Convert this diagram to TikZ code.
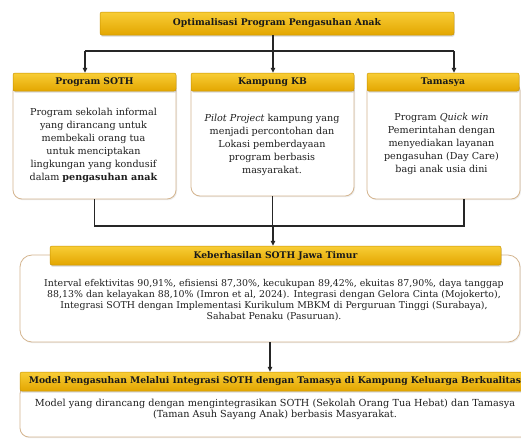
\documentclass[tikz,border=0pt]{standalone}
\usepackage{fontspec}
\setmainfont{DejaVu Serif}
\usepackage{xcolor}
\usetikzlibrary{arrows.meta, positioning, shadows}

\definecolor{goldlt}{HTML}{F8CD36}
\definecolor{golddk}{HTML}{E3A600}
\definecolor{goldln}{HTML}{C99400}
\definecolor{tanln}{HTML}{D4B58F}

\begin{document}
\begin{tikzpicture}[x=1pt, y=-1pt,
                >={Triangle[length=5pt, width=4.5pt]},
                hdr/.style   ={draw=goldln, line width=0.5pt, rounded corners=2pt,
                        top color=goldlt, bottom color=golddk, inner sep=0pt,
                        font=\fontsize{9.2}{11}\selectfont\bfseries, text=black!90,
                        drop shadow={shadow xshift=0.6pt, shadow yshift=-1.6pt, opacity=0.3}},
                bodybox/.style ={draw=tanln, line width=0.8pt, rounded corners=9pt,
                        fill=white, inner sep=0pt,
                        drop shadow={shadow xshift=1pt, shadow yshift=-1.2pt, opacity=0.15}},
                txt/.style   ={font=\fontsize{9.6}{13}\selectfont, align=center, text=black!88},
                small/.style ={font=\fontsize{9.4}{10.9}\selectfont, align=center, text=black!88},
                link/.style  ={line width=1.1pt, draw=black!85}
            ]

            \fill[white] (0,0) rectangle (521,440);
            \useasboundingbox (0,0) rectangle (521,440);

            %% ---- TOP: main program ---------------------------------------------
            \node[hdr, minimum width=354pt, minimum height=23pt] (opt) at (277,23.5)
                {Optimalisasi Program Pengasuhan Anak};

            %% ---- THREE COLUMNS -------------------------------------------------
            \node[bodybox, minimum width=163pt, minimum height=117pt] (sothbox) at (94.5,140.5) {};
            \node[bodybox, minimum width=163pt, minimum height=114pt] (kbbox)   at (272.5,139) {};
            \node[bodybox, minimum width=153pt, minimum height=117pt] (tambox)  at (443.5,140.5) {};

            \node[hdr, minimum width=163pt, minimum height=18pt] (soth) at (94.5,82) {Program SOTH};
            \node[hdr, minimum width=163pt, minimum height=18pt] (kb)   at (272.5,82) {Kampung KB};
            \node[hdr, minimum width=152pt, minimum height=18pt] (tam)  at (443,82) {Tamasya};

            \node[txt] (sothtxt) at (93.5,145.5) {Program sekolah informal\\yang dirancang untuk\\
                membekali orang tua\\untuk menciptakan\\lingkungan yang kondusif\\
                dalam \textbf{pengasuhan anak}};
            \node[txt] (kbtxt) at (272,144.5) {\textit{Pilot Project} kampung yang\\
                menjadi percontohan dan\\Lokasi pemberdayaan\\program berbasis\\masyarakat.};
            \node[txt] (tamtxt) at (441.5,143.5) {Program \textit{Quick win}\\Pemerintahan dengan\\
                menyediakan layanan\\pengasuhan (Day Care)\\bagi anak usia dini};

            %% ---- top bus: banner -> columns --------------------------------------
            \coordinate (tbus)  at (273,51);
            \coordinate (tbusL) at (85,51);
            \coordinate (tbusR) at (454,51);
            \draw[link] (tbus |- opt.south) -- (tbus);
            \draw[link] (tbusL) -- (tbusR);
            \draw[link, ->] (tbusL) -- (tbusL |- soth.north);
            \draw[link, ->] (tbus) -- (tbus |- kb.north);
            \draw[link, ->] (tbusR) -- (tbusR |- tam.north);

            %% ---- RESULT: East Java -----------------------------------------------
            \node[bodybox, rounded corners=12pt, minimum width=500pt, minimum height=87pt]
                (kebbox) at (270,298.5) {};
            \node[hdr, minimum width=451pt, minimum height=19pt] (keb) at (275.5,255.5)
                {Keberhasilan SOTH Jawa Timur};
            \node[small] (kebtxt) at (274,300) {Interval efektivitas 90,91\%, efisiensi 87,30\%,
                kecukupan 89,42\%, ekuitas 87,90\%, daya tanggap\\88,13\% dan kelayakan 88,10\%
                (Imron et al, 2024). Integrasi dengan Gelora Cinta (Mojokerto),\\Integrasi SOTH
                dengan Implementasi Kurikulum MBKM di Perguruan Tinggi (Surabaya),\\Sahabat Penaku
                (Pasuruan).};

            %% ---- bottom bus: columns -> result -----------------------------------
            \coordinate (bbus)  at (273,226);
            \coordinate (bbusR) at (464,226);
            \draw[link] (sothbox.south) -- (sothbox.south |- bbus) -- (bbusR) -- (bbusR |- tambox.south);
            \draw[link] (kbbox.south) -- (kbbox.south |- bbus);
            \draw[link, ->] (bbus) -- (bbus |- keb.north);

            %% ---- MODEL ---------------------------------------------------------
            \node[bodybox, minimum width=510pt, minimum height=52pt] (modelbox) at (275,411) {};
            \node[hdr, minimum width=510pt, minimum height=19pt] (model) at (275,381.5)
                {Model Pengasuhan Melalui Integrasi SOTH dengan Tamasya di Kampung Keluarga Berkualitas};
            \node[small, font=\fontsize{9.7}{11}\selectfont] (modeltxt) at (275,409.5)
                {Model yang dirancang dengan mengintegrasikan SOTH (Sekolah Orang Tua Hebat) dan Tamasya\\
                (Taman Asuh Sayang Anak) berbasis Masyarakat.};
            \draw[link, ->] (kebbox.south) -- (kebbox.south |- model.north);

        \end{tikzpicture}
\end{document}
